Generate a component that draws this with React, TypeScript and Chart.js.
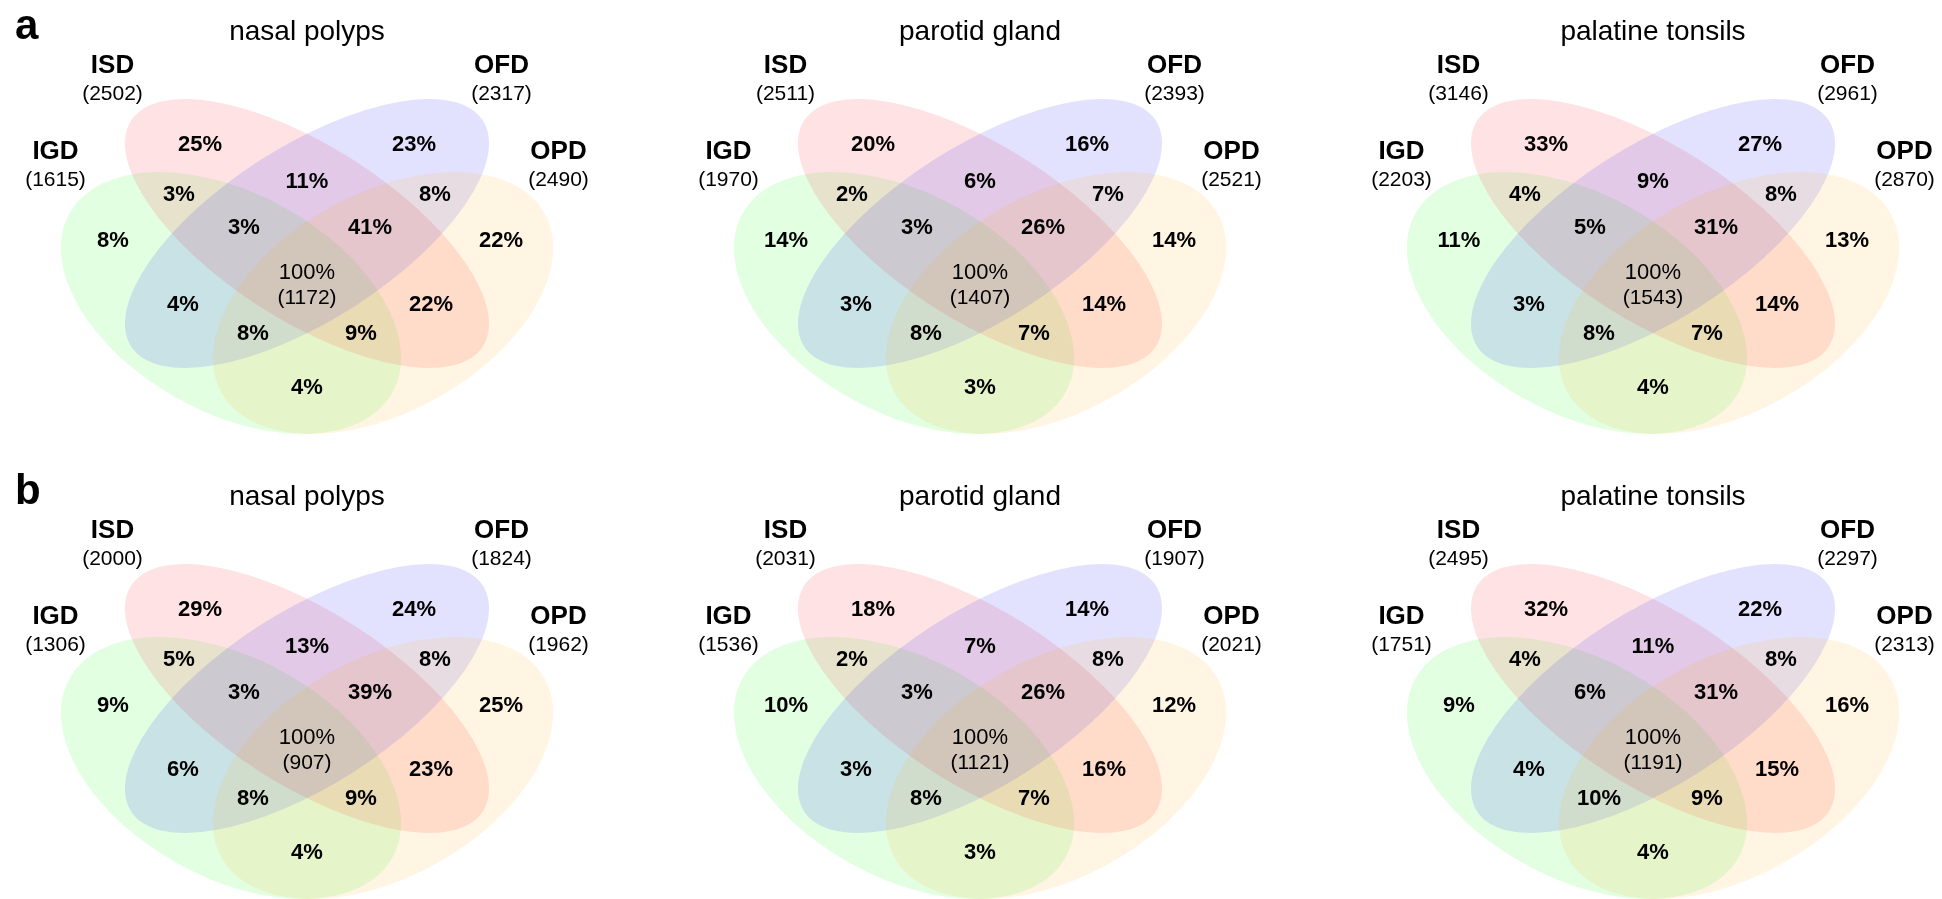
import React, { useEffect, useRef } from 'react';
import { Chart, registerables } from 'chart.js';

Chart.register(...registerables);

// ---- data ----
const PANEL_LETTERS = ['a', 'b'];
const TISSUES = ['nasal polyps', 'parotid gland', 'palatine tonsils'];
const SET_NAMES = ['IGD', 'ISD', 'OFD', 'OPD'];

// set sizes per tissue, order: IGD, ISD, OFD, OPD
const SET_SIZES_A = [
  [1615, 2502, 2317, 2490],
  [1970, 2511, 2393, 2521],
  [2203, 3146, 2961, 2870],
];
const SET_SIZES_B = [
  [1306, 2000, 1824, 1962],
  [1536, 2031, 1907, 2021],
  [1751, 2495, 2297, 2313],
];

// shared core (all four sets)
const CORE_COUNTS_A = [1172, 1407, 1543];
const CORE_COUNTS_B = [907, 1121, 1191];
const CORE_PCT = 100;

// region order used by the percentage arrays below
const REGION_KEYS = [
  'ISD', 'OFD', 'ISD&OFD', 'IGD&ISD', 'OFD&OPD', 'IGD', 'OPD',
  'IGD&ISD&OFD', 'ISD&OFD&OPD', 'IGD&OFD', 'ISD&OPD',
  'IGD&OFD&OPD', 'IGD&ISD&OPD', 'IGD&OPD',
];
const REGION_PCT_A = [
  [25, 23, 11, 3, 8, 8, 22, 3, 41, 4, 22, 8, 9, 4],
  [20, 16, 6, 2, 7, 14, 14, 3, 26, 3, 14, 8, 7, 3],
  [33, 27, 9, 4, 8, 11, 13, 5, 31, 3, 14, 8, 7, 4],
];
const REGION_PCT_B = [
  [29, 24, 13, 5, 8, 9, 25, 3, 39, 6, 23, 8, 9, 4],
  [18, 14, 7, 2, 8, 10, 12, 3, 26, 3, 16, 8, 7, 3],
  [32, 22, 11, 4, 8, 9, 16, 6, 31, 4, 15, 10, 9, 4],
];

const ROWS = [
  { letter: PANEL_LETTERS[0], sizes: SET_SIZES_A, core: CORE_COUNTS_A, pct: REGION_PCT_A },
  { letter: PANEL_LETTERS[1], sizes: SET_SIZES_B, core: CORE_COUNTS_B, pct: REGION_PCT_B },
];

// ---- layout (chart units, one unit per pixel) ----
const WIDTH = 1942;
const HEIGHT = 899;
const VENN_CENTERS = [307, 980, 1653];
const ROW_TOPS = [0, 465];

const FONT = '"Liberation Sans", Arial, Helvetica, sans-serif';

// ellipse per set, local to a Venn (x from centre line, y from row top)
const SET_SHAPES = [
  { cx: -76, cy: 303, a: 184.7, b: 109.5, rot: 28.9, fill: 'rgba(0, 255, 0, 0.115)' },
  { cx: 0, cy: 233.5, a: 209, b: 87, rot: 32.7, fill: 'rgba(255, 0, 20, 0.115)' },
  { cx: 0, cy: 233.5, a: 209, b: 87, rot: -32.7, fill: 'rgba(0, 0, 255, 0.115)' },
  { cx: 76, cy: 303, a: 184.7, b: 109.5, rot: -28.9, fill: 'rgba(255, 165, 0, 0.115)' },
];

// set name anchors (baseline), order IGD, ISD, OFD, OPD
const SET_LABEL_POS = [
  { x: -251.5, y: 159 },
  { x: -194.5, y: 73 },
  { x: 194.5, y: 73 },
  { x: 251.5, y: 159 },
];
const COUNT_OFFSET = 27;

// region label anchors (baseline), same order as REGION_KEYS
const REGION_POS = [
  { x: -107, y: 151 },
  { x: 107, y: 151 },
  { x: 0, y: 188 },
  { x: -128, y: 201 },
  { x: 128, y: 201 },
  { x: -194, y: 247 },
  { x: 194, y: 247 },
  { x: -63, y: 234 },
  { x: 63, y: 234 },
  { x: -124, y: 311 },
  { x: 124, y: 311 },
  { x: -54, y: 340 },
  { x: 54, y: 340 },
  { x: 0, y: 393.5 },
];
const CORE_POS = { x: 0, y: 278.5 };
const CORE_COUNT_POS = { x: 0, y: 304 };
const TITLE_Y = 39.5;
const LETTER_POS = { x: 15, y: 39 };

const vennPlugin = {
  id: 'vennPanels',
  beforeDatasetsDraw(chart: any) {
    const { ctx } = chart;
    const xs = chart.scales.x;
    const ys = chart.scales.y;
    const px = (v: number) => xs.getPixelForValue(v);
    const py = (v: number) => ys.getPixelForValue(v);
    const ux = Math.abs(px(1) - px(0));
    const uy = Math.abs(py(1) - py(0));

    const text = (s: string, x: number, y: number, font: string, align: CanvasTextAlign = 'center') => {
      ctx.font = font;
      ctx.textAlign = align;
      ctx.textBaseline = 'alphabetic';
      ctx.fillStyle = '#000';
      ctx.fillText(s, px(x), py(y));
    };

    ctx.save();
    ROWS.forEach((row, r) => {
      const top = ROW_TOPS[r];
      text(row.letter, LETTER_POS.x, top + LETTER_POS.y, `bold 42px ${FONT}`, 'left');

      TISSUES.forEach((tissue, t) => {
        const cxV = VENN_CENTERS[t];

        // set ellipses
        SET_SHAPES.forEach((s) => {
          ctx.save();
          ctx.translate(px(cxV + s.cx), py(top + s.cy));
          ctx.scale(ux, uy);
          ctx.rotate((s.rot * Math.PI) / 180);
          ctx.beginPath();
          ctx.ellipse(0, 0, s.a, s.b, 0, 0, Math.PI * 2);
          ctx.fillStyle = s.fill;
          ctx.fill();
          ctx.restore();
        });

        text(tissue, cxV, top + TITLE_Y, `28px ${FONT}`);

        SET_NAMES.forEach((name, i) => {
          const p = SET_LABEL_POS[i];
          text(name, cxV + p.x, top + p.y, `bold 26px ${FONT}`);
          text(`(${row.sizes[t][i]})`, cxV + p.x, top + p.y + COUNT_OFFSET, `21px ${FONT}`);
        });

        row.pct[t].forEach((v, k) => {
          const p = REGION_POS[k];
          text(`${v}%`, cxV + p.x, top + p.y, `bold 22px ${FONT}`);
        });

        text(`${CORE_PCT}%`, cxV + CORE_POS.x, top + CORE_POS.y, `22px ${FONT}`);
        text(`(${row.core[t]})`, cxV + CORE_COUNT_POS.x, top + CORE_COUNT_POS.y, `21px ${FONT}`);
      });
    });
    ctx.restore();
  },
};

export default function App() {
  const canvasRef = useRef<HTMLCanvasElement | null>(null);

  useEffect(() => {
    document.body.style.margin = '0';
    document.body.style.overflow = 'hidden';
    const canvas = canvasRef.current;
    if (!canvas) return;
    const chart = new Chart(canvas, {
      type: 'scatter',
      data: { datasets: [] },
      options: {
        responsive: false,
        animation: false,
        devicePixelRatio: 1,
        layout: { padding: 0 },
        events: [],
        scales: {
          x: { type: 'linear', min: 0, max: WIDTH, display: false },
          y: { type: 'linear', min: 0, max: HEIGHT, reverse: true, display: false },
        },
        plugins: { legend: { display: false }, tooltip: { enabled: false }, title: { display: false } },
      },
      plugins: [vennPlugin],
    });
    return () => chart.destroy();
  }, []);

  return (
    <div style={{ position: 'absolute', left: 0, top: 0, width: WIDTH, height: HEIGHT, background: '#fff' }}>
      <canvas ref={canvasRef} width={WIDTH} height={HEIGHT} style={{ display: 'block', width: WIDTH, height: HEIGHT }} />
    </div>
  );
}
